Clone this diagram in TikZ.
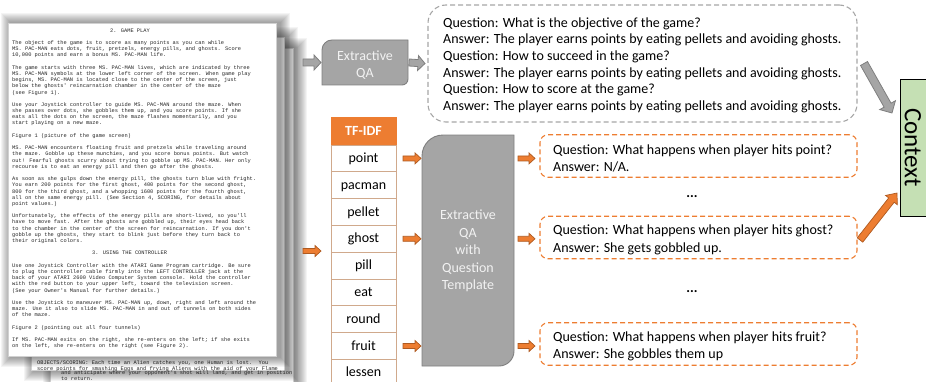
\documentclass[tikz,border=0pt]{standalone}
\usepackage{fontspec}
\setmainfont{Carlito}
\newfontfamily\docfont{Liberation Mono}
\usetikzlibrary{backgrounds,calc}
\definecolor{orng}{HTML}{ED7D31}
\definecolor{orngdk}{HTML}{AE5A21}
\definecolor{gfill}{HTML}{A5A5A5}
\definecolor{gline}{HTML}{7F7F7F}
\definecolor{gdash}{HTML}{A6A6A6}
\definecolor{ctxgreen}{HTML}{C5E0B4}
\definecolor{tblline}{HTML}{D0A98C}
\definecolor{doctext}{HTML}{262626}
\newcommand\pgshadow[4]{%
  \foreach \k in {1,...,10}{\fill[black,opacity=0.045] ({#1-\k+3},{#2-\k-1}) rectangle ({#3+\k+4},{#4+\k});}}
% block arrow from #1 to #2: shaft half width #3, head half width #4, head length #5, style #6
\newcommand\blockarr[6]{%
  \draw[#6] let \p1=(#1), \p2=(#2), \n1={atan2(\y2-\y1,\x2-\x1)}, \n2={veclen(\x2-\x1,\y2-\y1)} in
   [shift={(\p1)}, rotate=\n1] (0,-#3) -- ({\n2-#5},-#3) -- ({\n2-#5},-#4) -- (\n2,0)
   -- ({\n2-#5},#4) -- ({\n2-#5},#3) -- (0,#3) -- cycle;}
\begin{document}
\begin{tikzpicture}[x=1pt,y=1pt,
  doc/.style={font=\docfont\fontsize{5.35}{6}\selectfont, inner sep=0, anchor=base west, text=doctext},
  page/.style={fill=white, draw=black!18, line width=0.5, inner sep=0, outer sep=0, anchor=south west},
  garrow/.style={fill=gfill, draw=gline, line width=0.8, line join=miter},
  oarrow/.style={fill=orng, draw=orngdk, line width=0.7, line join=miter},
  gshape/.style={fill=gfill, draw=gline, line width=0.9},
  shapebox/.style={inner sep=0, outer sep=0},
  body/.style={align=left, inner sep=0, anchor=west},
  cell/.style={minimum width=65, minimum height=26.8, inner sep=0, outer sep=0, font=\fontsize{14}{16}\selectfont, text height=11, text depth=3, draw=tblline, fill=white, line width=0.8},
  obox/.style={draw=orng, dash pattern=on 5pt off 3pt, line width=1.1, rounded corners=8, minimum width=317, minimum height=42.5, inner sep=0, outer sep=0},
  boxtext/.style={text=white!95!black, align=center, inner sep=0, font=\fontsize{14}{17.5}\selectfont}
]
\useasboundingbox (0,0) rectangle (926,381);

% ---------- document stack ----------
\pgshadow{50}{-10}{293}{333}
\node[page, minimum width=243, minimum height=343] (page3) at (50,-10) {};
\pgshadow{31}{11}{284}{344}
\node[page, minimum width=253, minimum height=333] (page2) at (31,11) {};
\begin{scope}
  \clip (page2.south west) rectangle (page2.north east);
  \node[doc] (p2a) at (37,16.5) {OBJECTS/SCORING: Each time an Alien catches you, one Human is lost.\ \ You};
  \node[doc] (p2b) at (37,10.5) {score points for smashing Eggs and frying Aliens with the aid of your Flame};
\end{scope}
\node[doc] (p3a) at (61,6.5) {and anticipate where your opponent's shot will land, and get in position};
\node[doc] (p3b) at (61,0.5) {to return.};
\pgshadow{8}{25}{276}{358}
\node[page, minimum width=268, minimum height=333] (page1) at (8,25) {};

\foreach \i/\t in {
 0/{\hspace*{98pt}2. GAME PLAY},
 2/{The object of the game is to score as many points as you can while},
 3/{MS. PAC-MAN eats dots, fruit, pretzels, energy pills, and ghosts. Score},
 4/{10,000 points and earn a bonus MS. PAC-MAN life.},
 6/{The game starts with three MS. PAC-MAN lives, which are indicated by three},
 7/{MS. PAC-MAN symbols at the lower left corner of the screen. When game play},
 8/{begins, MS. PAC-MAN is located close to the center of the screen, just},
 9/{below the ghosts' reincarnation chamber in the center of the maze},
 10/{(see Figure 1).},
 12/{Use your Joystick controller to guide MS. PAC-MAN around the maze. When},
 13/{she passes over dots, she gobbles them up, and you score points. If she},
 14/{eats all the dots on the screen, the maze flashes momentarily, and you},
 15/{start playing on a new maze.},
 17/{Figure 1 (picture of the game screen)},
 19/{MS. PAC-MAN encounters floating fruit and pretzels while traveling around},
 20/{the maze. Gobble up these munchies, and you score bonus points. But watch},
 21/{out! Fearful ghosts scurry about trying to gobble up MS. PAC-MAN. Her only},
 22/{recourse is to eat an energy pill and then go after the ghosts.},
 24/{As soon as she gulps down the energy pill, the ghosts turn blue with fright.},
 25/{You earn 200 points for the first ghost, 400 points for the second ghost,},
 26/{800 for the third ghost, and a whopping 1600 points for the fourth ghost,},
 27/{all on the same energy pill. (See Section 4, SCORING, for details about},
 28/{point values.)},
 30/{Unfortunately, the effects of the energy pills are short-lived, so you'll},
 31/{have to move fast. After the ghosts are gobbled up, their eyes head back},
 32/{to the chamber in the center of the screen for reincarnation. If you don't},
 33/{gobble up the ghosts, they start to blink just before they turn back to},
 34/{their original colors.},
 36/{\hspace*{80pt}3. USING THE CONTROLLER},
 38/{Use one Joystick Controller with the ATARI Game Program cartridge. Be sure},
 39/{to plug the controller cable firmly into the LEFT CONTROLLER jack at the},
 40/{back of your ATARI 2600 Video Computer System console. Hold the controller},
 41/{with the red button to your upper left, toward the television screen.},
 42/{(See your Owner's Manual for further details.)},
 44/{Use the Joystick to maneuver MS. PAC-MAN up, down, right and left around the},
 45/{maze. Use it also to slide MS. PAC-MAN in and out of tunnels on both sides},
 46/{of the maze.},
 48/{Figure 2 (pointing out all four tunnels)},
 50/{If MS. PAC-MAN exits on the right, she re-enters on the left; if she exits},
 51/{on the left, she re-enters on the right (see Figure 2).}}
 {\node[doc] (d\i) at (12,{348.9-6.19*\i}) {\t};}

% ---------- upper (generic QA) branch ----------
\node[shapebox, minimum width=86, minimum height=45] (qa1) at (365,318.5) {};
\node[boxtext] (qa1t) at ([yshift=-2.7]qa1.center) {Extractive\\QA};
\coordinate (docout1) at (303,318.5);
\blockarr{docout1}{[xshift=-1]qa1.west}{3.5}{7.5}{7}{garrow}

\node[draw=gdash, dash pattern=on 5pt off 3pt, line width=1.1, rounded corners=18,
      minimum width=429, minimum height=117, inner sep=0, outer sep=0] (gbox) at (642.5,317.5) {};
\node[body, font=\fontsize{14}{16.67}\selectfont] (gtext) at ([xshift=15,yshift=-1.7]gbox.west)
 {Question: What is the objective of the game?\\
  Answer: The player earns points by eating pellets and avoiding ghosts.\\
  Question: How to succeed in the game?\\
  Answer: The player earns points by eating pellets and avoiding ghosts.\\
  Question: How to score at the game?\\
  Answer: The player earns points by eating pellets and avoiding ghosts.};
\blockarr{[xshift=1]qa1.east}{[xshift=-3]gbox.west}{3.5}{7.5}{7}{garrow}

% ---------- Context ----------
\node[draw=black, fill=ctxgreen, line width=0.9, rotate=-90, minimum width=137, minimum height=26,
      inner sep=0, outer sep=0, font=\fontsize{25}{25}\selectfont] (ctx) at (913,233.5) {Context};
\blockarr{[xshift=7]gbox.east}{[xshift=-8,yshift=34.5]ctx.south}{4}{9}{9}{garrow}

% ---------- TF-IDF table ----------
\node[fill=orng, draw=orng, minimum width=65, minimum height=28, inner sep=0, outer sep=0,
      text=white, font=\bfseries\fontsize{14}{16}\selectfont] (th) at (363.5,250) {TF-IDF};
\foreach \w [count=\i from 0] in {point,pacman,pellet,ghost,pill,eat,round,fruit,lessen}
  {\node[cell] (r\i) at (363.5,{222.6-26.8*\i}) {\w};}
\coordinate (docout2) at (303,130);
\blockarr{docout2}{[xshift=-10]docout2 -| r4.west}{2.5}{5.5}{6}{oarrow}

% ---------- template QA ----------
\node[shapebox, minimum width=92, minimum height=231] (bigbox) at (468,130.5) {};
\node[boxtext] (bigt) at ([yshift=-0.5]bigbox.center) {Extractive\\QA\\with\\Question\\Template};
\begin{scope}[on background layer]
\draw[gshape] (qa1.south west) -- ([yshift=-10]qa1.north west) arc[start angle=180,end angle=90,radius=10]
  -- (qa1.north east) -- ([yshift=6]qa1.south east) arc[start angle=0,end angle=-90,radius=6] -- cycle;
\draw[gshape] (bigbox.south west) -- ([yshift=-21]bigbox.north west) arc[start angle=180,end angle=90,radius=21]
  -- (bigbox.north east) -- ([yshift=15]bigbox.south east) arc[start angle=0,end angle=-90,radius=15] -- cycle;
\end{scope}

\node[obox] (q1) at (698.5,225) {};
\node[obox] (q2) at (698.5,143.5) {};
\node[obox] (q3) at (698.5,37) {};
\node[body, font=\fontsize{14}{17.5}\selectfont] (q1t) at ([xshift=13,yshift=-2.5]q1.west)
  {Question: What happens when player hits point?\\Answer: N/A.};
\node[body, font=\fontsize{14}{17.5}\selectfont] (q2t) at ([xshift=13,yshift=-2.5]q2.west)
  {Question: What happens when player hits ghost?\\Answer: She gets gobbled up.};
\node[body, font=\fontsize{14}{17.5}\selectfont] (q3t) at ([xshift=13,yshift=-2.5]q3.west)
  {Question: What happens when player hits fruit?\\Answer: She gobbles them up};
\node[font=\bfseries\fontsize{14}{16}\selectfont, inner sep=0] (dots1) at (692,184) {...};
\node[font=\bfseries\fontsize{14}{16}\selectfont, inner sep=0] (dots2) at (692,89) {...};

\foreach \r/\q in {0/1,3/2,7/3}{
  \blockarr{[xshift=7]r\r.east}{[xshift=-1]r\r.east -| bigbox.west}{2.5}{5.5}{6}{oarrow}
  \blockarr{[xshift=4]r\r.east -| bigbox.east}{[xshift=-5]r\r.east -| q\q.west}{2.5}{5.5}{6}{oarrow}
}
\blockarr{[xshift=3,yshift=-2.5]q2.east}{[xshift=-3,yshift=-45.5]ctx.south}{3.5}{7.5}{9}{oarrow}
\end{tikzpicture}
\end{document}
